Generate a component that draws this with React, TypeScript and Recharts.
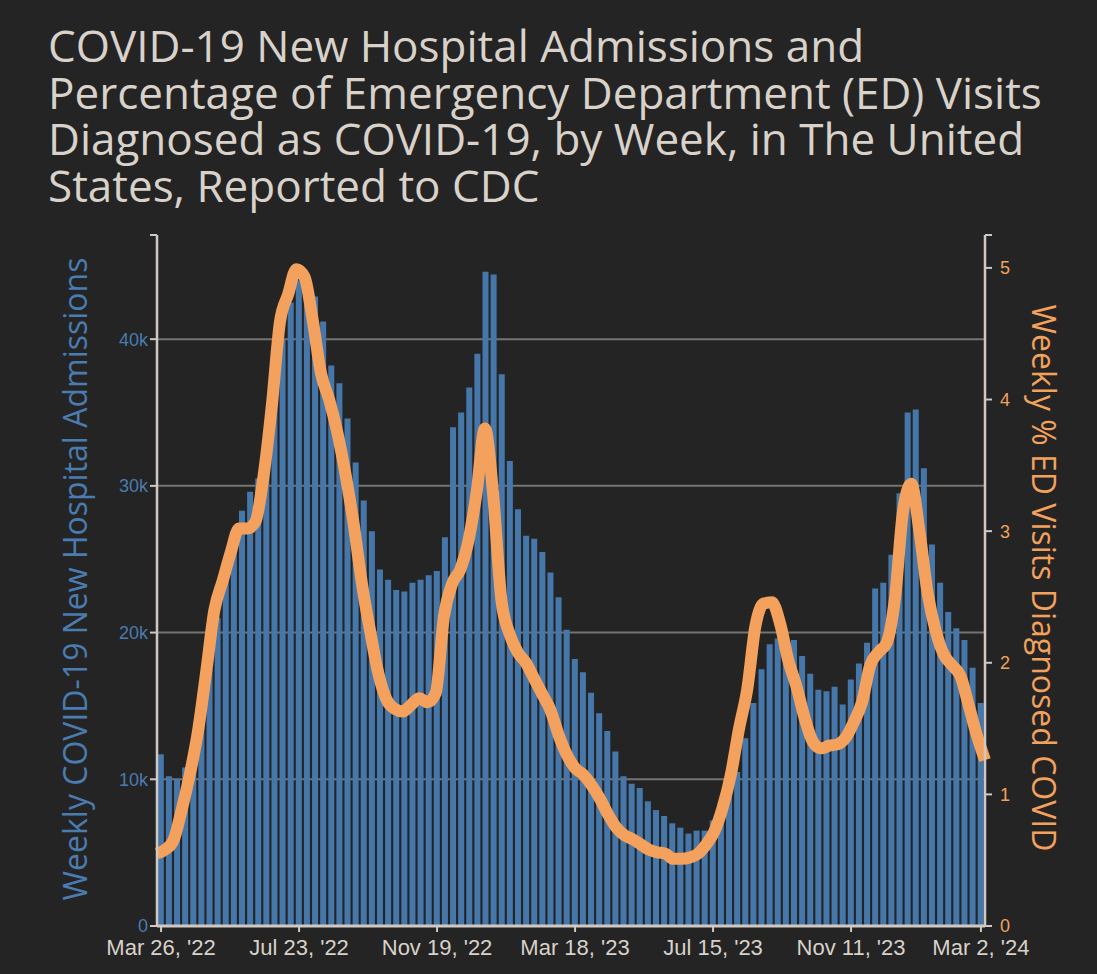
import { ComposedChart, Bar, Line, XAxis, YAxis, CartesianGrid } from "recharts";

// weekly new hospital admissions, Mar 26 '22 .. Mar 2 '24
const admissions = [
  11700, 10200, 10000, 10800, 12400, 14500, 17500, 21000, 24600, 26500,
  28300, 29600, 30500, 33000, 36500, 40000, 42500, 44000, 43600, 42900,
  41200, 38200, 37000, 34600, 31600, 29000, 26900, 24300, 23600, 22900,
  22800, 23400, 23600, 23900, 24200, 26500, 34000, 35000, 36700, 39000,
  44600, 44400, 37600, 31700, 28400, 26600, 26400, 25500, 24100, 22400,
  20200, 18200, 17300, 15900, 14500, 13300, 11900, 10200, 9700, 9400,
  8500, 7900, 7500, 7000, 6700, 6300, 6500, 6500, 7200, 7900,
  9000, 10500, 12800, 15200, 17500, 19200, 19600, 19400, 19500, 18400,
  17200, 16100, 16000, 16300, 15100, 16800, 17900, 19300, 23000, 23400,
  25300, 29500, 35000, 35200, 31200, 26000, 23400, 21400, 20300, 19500,
  17600, 15200,
];

// weekly % of ED visits diagnosed as COVID
const edPercent = [
  0.55, 0.58, 0.65, 0.88, 1.15, 1.48, 1.93, 2.4, 2.62, 2.84,
  3.02, 3.02, 3.07, 3.42, 3.95, 4.59, 4.8, 4.99, 4.93, 4.6,
  4.2, 4.0, 3.75, 3.43, 3.05, 2.6, 2.24, 1.92, 1.72, 1.65,
  1.63, 1.68, 1.73, 1.7, 1.77, 2.35, 2.6, 2.71, 2.93, 3.3,
  3.78, 3.28, 2.48, 2.22, 2.08, 2.0, 1.88, 1.76, 1.64, 1.45,
  1.3, 1.2, 1.15, 1.07, 0.97, 0.85, 0.75, 0.69, 0.66, 0.62,
  0.58, 0.56, 0.55, 0.51, 0.51, 0.52, 0.55, 0.62, 0.72, 0.9,
  1.15, 1.5, 1.8, 2.28, 2.45, 2.46, 2.3, 2.02, 1.82, 1.58,
  1.4, 1.35, 1.37, 1.38, 1.43, 1.55, 1.7, 1.98, 2.08, 2.15,
  2.48, 3.15, 3.36, 3.0, 2.53, 2.24, 2.06, 1.98, 1.9, 1.68,
  1.45, 1.26,
];

const titleLines = [
  "COVID-19 New Hospital Admissions and",
  "Percentage of Emergency Department (ED) Visits",
  "Diagnosed as COVID-19, by Week, in The United",
  "States, Reported to CDC",
];
const xTickWeeks = [0, 17, 34, 51, 68, 85, 101];
const xTickLabels = ["Mar 26, '22", "Jul 23, '22", "Nov 19, '22", "Mar 18, '23", "Jul 15, '23", "Nov 11, '23", "Mar 2, '24"];
const leftTicks = [0, 10000, 20000, 30000, 40000];
const rightTicks = [0, 1, 2, 3, 4, 5];
const LEFT_MAX = 47100;
const RIGHT_MAX = 5.25;

const BG = "#242424";
const BLUE = "#4677aa";
const LABEL_BLUE = "#4a7cb0";
const ORANGE = "#f3a15c";
const AXIS = "#cfc9c1";
const TEXT = "#d8d2ca";
const TICK_FONT = "'Liberation Sans', Arial, sans-serif";

const data = admissions.map((v, i) => ({ week: i, admissions: v, edPct: edPercent[i] }));

export default function App() {
  return (
    <div style={{ position: "fixed", left: 0, top: 0, width: 1097, height: 974, background: BG, overflow: "hidden" }}>
      {titleLines.map((line, i) => (
        <div
          key={i}
          style={{
            position: "absolute", left: 48, top: 27 + i * 46.5, height: 36, lineHeight: "36px",
            whiteSpace: "nowrap", fontFamily: "'Open Sans', sans-serif", fontSize: 44, color: TEXT,
          }}
        >
          {line}
        </div>
      ))}

      <div
        style={{
          position: "absolute", left: 74, top: 579, transform: "translate(-50%, -50%) rotate(-90deg)",
          whiteSpace: "nowrap", fontFamily: "'Open Sans', sans-serif", fontSize: 32, color: LABEL_BLUE,
        }}
      >
        Weekly COVID-19 New Hospital Admissions
      </div>
      <div
        style={{
          position: "absolute", left: 1044, top: 578, transform: "translate(-50%, -50%) rotate(90deg)",
          whiteSpace: "nowrap", fontFamily: "'Open Sans', sans-serif", fontSize: 32, color: ORANGE,
        }}
      >
        Weekly % ED Visits Diagnosed COVID
      </div>

      <div style={{ position: "absolute", left: 0, top: 0 }}>
        <ComposedChart
          width={1097}
          height={974}
          data={data}
          margin={{ top: 235, right: 52, bottom: 8, left: 97 }}
          barCategoryGap="10%"
        >
          <CartesianGrid
            yAxisId="left"
            xAxisId="bar"
            vertical={false}
            horizontalValues={leftTicks.slice(1)}
            stroke="#737373"
            strokeWidth={2}
          />
          <XAxis
            xAxisId="bar"
            dataKey="week"
            type="category"
            ticks={xTickWeeks}
            interval={0}
            tickFormatter={(w) => xTickLabels[xTickWeeks.indexOf(w)] ?? ""}
            height={40}
            tickSize={6}
            tickMargin={7}
            axisLine={{ stroke: AXIS, strokeWidth: 3 }}
            tickLine={{ stroke: AXIS, strokeWidth: 2 }}
            tick={{ fill: TEXT, fontSize: 22, fontFamily: TICK_FONT }}
          />
          <XAxis xAxisId="line" dataKey="week" type="number" domain={[0, admissions.length - 1]} hide />
          <YAxis
            yAxisId="left"
            width={60}
            domain={[0, LEFT_MAX]}
            ticks={[...leftTicks, LEFT_MAX]}
            interval={0}
            tickFormatter={(v) => (v === LEFT_MAX ? "" : v === 0 ? "0" : `${v / 1000}k`)}
            tickSize={7}
            tickMargin={2}
            axisLine={{ stroke: AXIS, strokeWidth: 2.5 }}
            tickLine={{ stroke: AXIS, strokeWidth: 2 }}
            tick={{ fill: LABEL_BLUE, fontSize: 18, fontFamily: TICK_FONT }}
          />
          <YAxis
            yAxisId="right"
            orientation="right"
            width={60}
            domain={[0, RIGHT_MAX]}
            ticks={[...rightTicks, RIGHT_MAX]}
            interval={0}
            tickFormatter={(v) => (v === RIGHT_MAX ? "" : String(v))}
            tickSize={7}
            tickMargin={8}
            axisLine={{ stroke: AXIS, strokeWidth: 2.5 }}
            tickLine={{ stroke: AXIS, strokeWidth: 2 }}
            tick={{ fill: ORANGE, fontSize: 18, fontFamily: TICK_FONT }}
          />
          <Bar
            xAxisId="bar"
            yAxisId="left"
            dataKey="admissions"
            fill={BLUE}
            isAnimationActive={false}
          />
          <Line
            xAxisId="line"
            yAxisId="right"
            dataKey="edPct"
            type="monotone"
            stroke={ORANGE}
            strokeWidth={12}
            strokeLinejoin="round"
            dot={false}
            activeDot={false}
            isAnimationActive={false}
          />
        </ComposedChart>
      </div>
    </div>
  );
}
